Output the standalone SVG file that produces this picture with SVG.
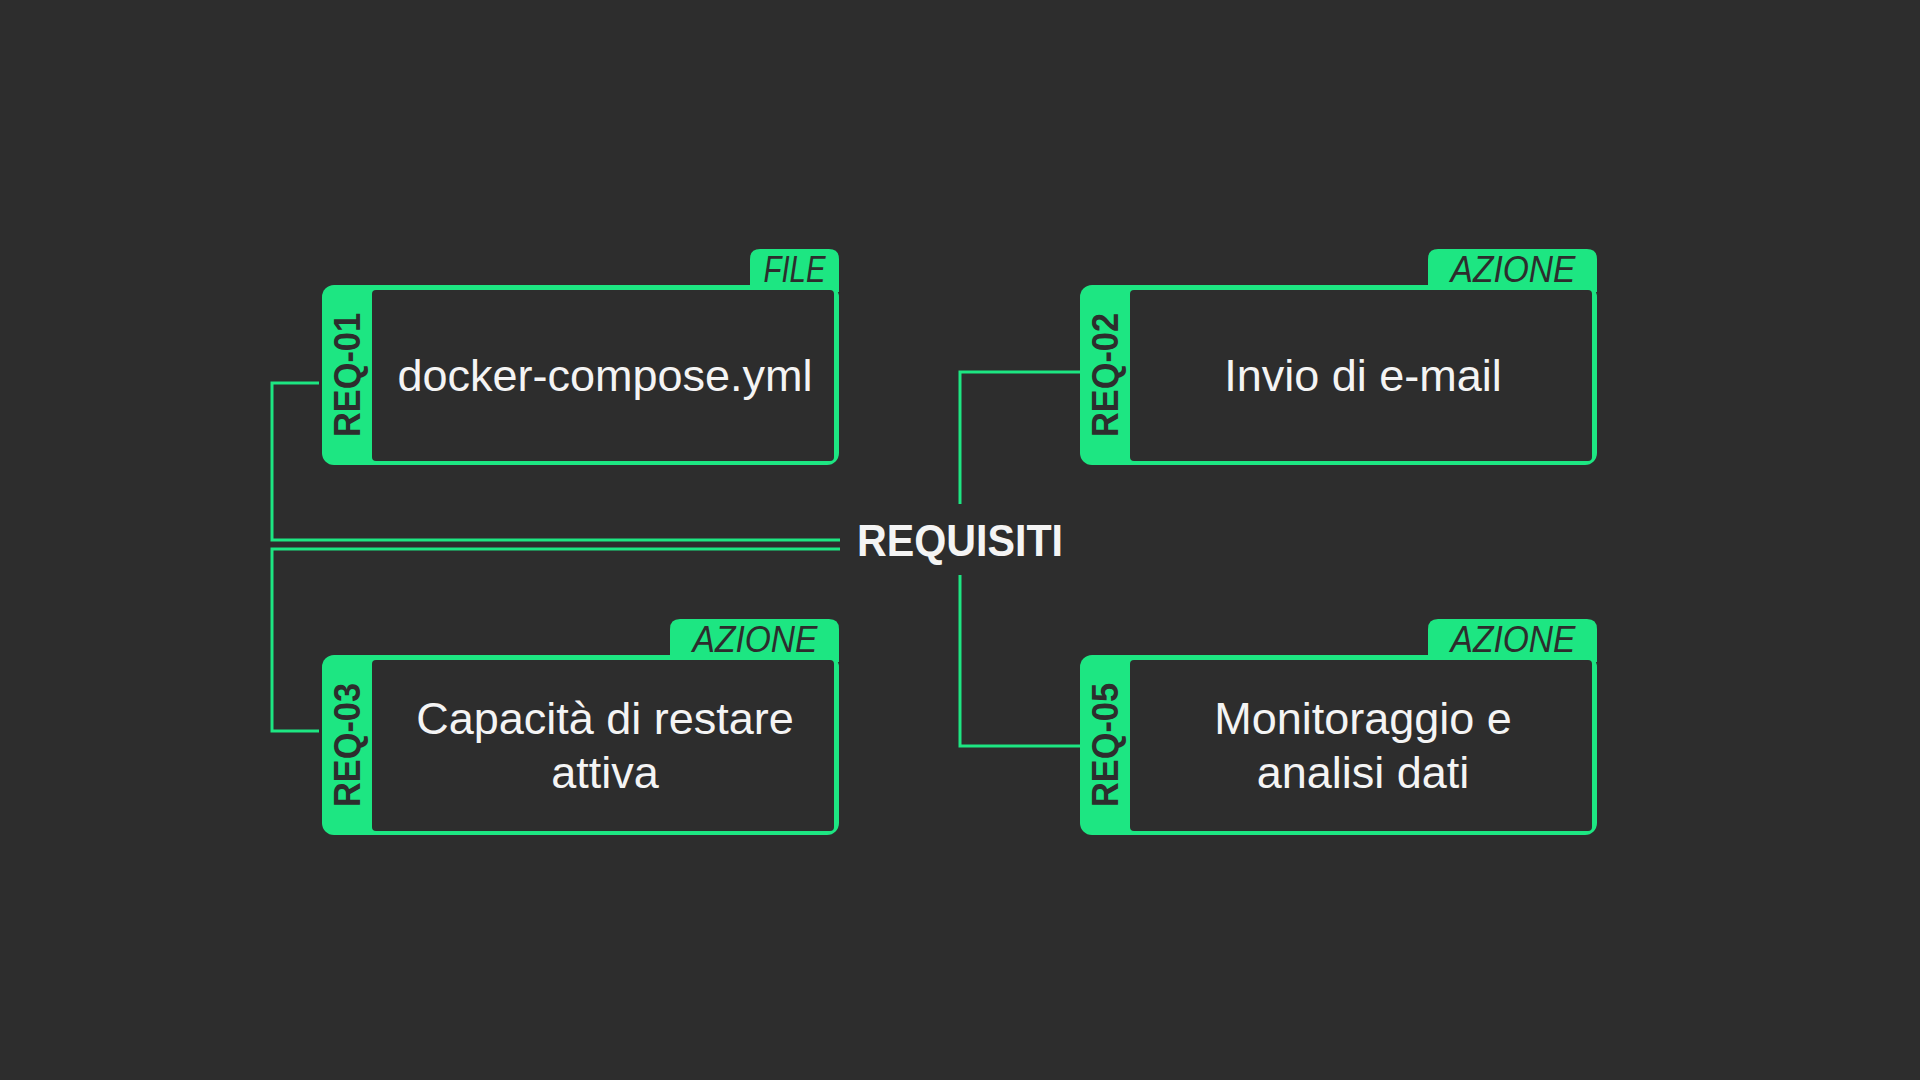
<svg xmlns="http://www.w3.org/2000/svg" width="1920" height="1080" viewBox="0 0 1920 1080">
  <style>
    .bg{fill:#2d2d2d}
    .frame{fill:#1de682}
    .inner{fill:#2d2d2d}
    .tag{fill:#1de682}
    .conn{fill:none;stroke:#1de682;stroke-width:3}
    .main{font-family:"Liberation Sans",Arial,sans-serif;font-size:45px;fill:#f4f4f4;text-anchor:middle}
    .id{font-family:"Liberation Sans",Arial,sans-serif;font-size:37px;font-weight:bold;fill:#2d2d2d;text-anchor:middle}
    .tagt{font-family:"Liberation Sans",Arial,sans-serif;font-size:36px;font-style:italic;fill:#2d2d2d;text-anchor:middle}
    .title{font-family:"Liberation Sans",Arial,sans-serif;font-size:44px;font-weight:bold;fill:#f4f4f4;text-anchor:middle}
  </style>
  <rect class="bg" x="0" y="0" width="1920" height="1080"/>

  <g id="connectors">
    <path class="conn" d="M 319 383 H 272 V 540 H 840"/>
    <path class="conn" d="M 840 549 H 272 V 731 H 319"/>
    <path class="conn" d="M 1080 372 H 960 V 504"/>
    <path class="conn" d="M 960 575 V 746 H 1080"/>
  </g>

  <g id="center">
    <text class="title" x="960" y="556" textLength="206" lengthAdjust="spacingAndGlyphs">REQUISITI</text>
  </g>

  <g id="req-01">
    <path class="tag" d="M 750 292 V 259 Q 750 249 760 249 H 829 Q 839 249 839 259 V 292 Z"/>
    <rect class="frame" x="322" y="285" width="517" height="180" rx="12"/>
    <rect class="inner" x="372" y="290" width="462" height="171" rx="4"/>
    <text class="tagt" x="794.5" y="282" textLength="62" lengthAdjust="spacingAndGlyphs">FILE</text>
    <text class="id" transform="translate(360,375) rotate(-90)" x="0" y="0" textLength="124" lengthAdjust="spacingAndGlyphs">REQ-01</text>
    <text class="main" x="605" y="391">docker-compose.yml</text>
  </g>

  <g id="req-02">
    <path class="tag" d="M 1428 292 V 259 Q 1428 249 1438 249 H 1587 Q 1597 249 1597 259 V 292 Z"/>
    <rect class="frame" x="1080" y="285" width="517" height="180" rx="12"/>
    <rect class="inner" x="1130" y="290" width="462" height="171" rx="4"/>
    <text class="tagt" x="1513" y="282" textLength="125" lengthAdjust="spacingAndGlyphs">AZIONE</text>
    <text class="id" transform="translate(1118,375) rotate(-90)" x="0" y="0" textLength="124" lengthAdjust="spacingAndGlyphs">REQ-02</text>
    <text class="main" x="1363" y="391">Invio di e-mail</text>
  </g>

  <g id="req-03">
    <path class="tag" d="M 670 662 V 629 Q 670 619 680 619 H 829 Q 839 619 839 629 V 662 Z"/>
    <rect class="frame" x="322" y="655" width="517" height="180" rx="12"/>
    <rect class="inner" x="372" y="660" width="462" height="171" rx="4"/>
    <text class="tagt" x="755" y="652" textLength="125" lengthAdjust="spacingAndGlyphs">AZIONE</text>
    <text class="id" transform="translate(360,745) rotate(-90)" x="0" y="0" textLength="124" lengthAdjust="spacingAndGlyphs">REQ-03</text>
    <text class="main" x="605" y="734">Capacità di restare</text>
    <text class="main" x="605" y="788">attiva</text>
  </g>

  <g id="req-05">
    <path class="tag" d="M 1428 662 V 629 Q 1428 619 1438 619 H 1587 Q 1597 619 1597 629 V 662 Z"/>
    <rect class="frame" x="1080" y="655" width="517" height="180" rx="12"/>
    <rect class="inner" x="1130" y="660" width="462" height="171" rx="4"/>
    <text class="tagt" x="1513" y="652" textLength="125" lengthAdjust="spacingAndGlyphs">AZIONE</text>
    <text class="id" transform="translate(1118,745) rotate(-90)" x="0" y="0" textLength="124" lengthAdjust="spacingAndGlyphs">REQ-05</text>
    <text class="main" x="1363" y="734">Monitoraggio e</text>
    <text class="main" x="1363" y="788">analisi dati</text>
  </g>
</svg>
